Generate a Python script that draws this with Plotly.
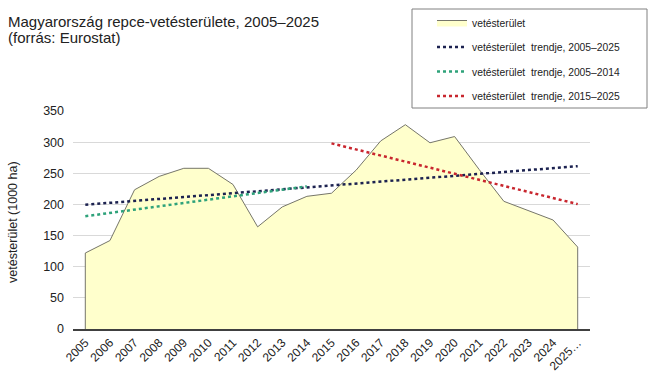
import plotly.graph_objects as go

# ---- data ----
years = [str(y) for y in range(2005, 2026)]
tick_labels = years[:-1] + ["2025…"]
area_values = [122, 142, 223.5, 245, 258, 258, 232, 164, 196, 213, 218,
               255, 302, 328, 299, 309, 256, 205, 190, 175, 131.5]

trend_all_x = ["2005", "2025"]
trend_all_y = [199.5, 261.4]
trend_early_x = ["2005", "2014"]
trend_early_y = [181, 229]
trend_late_x = ["2015", "2025"]
trend_late_y = [298, 200.5]

y_ticks = [0, 50, 100, 150, 200, 250, 300, 350]

FONT = "Liberation Sans, Arial, sans-serif"

# pixel geometry helpers
L, R, T, B = 73, 60, 111, 53
W, H = 650, 382
PW, PH = W - L - R, H - T - B


def px(xp):
    return (xp - L) / PW


def py(yp):
    return (H - B - yp) / PH


fig = go.Figure()

poly_x = [years[0]] + years + [years[-1]]
poly_y = [0] + area_values + [0]
fig.add_trace(go.Scatter(
    x=poly_x, y=poly_y, mode="lines", fill="toself",
    fillcolor="#FFFFCC", line=dict(color="#76766A", width=1),
    name="vetésterület", legendgroup="a", hoverinfo="skip"))

fig.add_trace(go.Scatter(
    x=trend_all_x, y=trend_all_y, mode="lines",
    line=dict(color="#1C2250", width=2.5, dash="dot"),
    name="vetésterület  trendje, 2005–2025", legendgroup="b"))
fig.add_trace(go.Scatter(
    x=trend_early_x, y=trend_early_y, mode="lines",
    line=dict(color="#2EA27A", width=2.5, dash="dot"),
    name="vetésterület  trendje, 2005–2014", legendgroup="c"))
fig.add_trace(go.Scatter(
    x=trend_late_x, y=trend_late_y, mode="lines",
    line=dict(color="#C8262E", width=2.5, dash="dot"),
    name="vetésterület  trendje, 2015–2025", legendgroup="d"))

fig.update_layout(
    width=W, height=H,
    margin=dict(l=L, r=R, t=T, b=B, autoexpand=False),
    paper_bgcolor="white", plot_bgcolor="white",
    font=dict(family=FONT, color="#222222", size=12),
    showlegend=True,
    legend=dict(x=px(432), y=py(8), xanchor="left", yanchor="top",
                bgcolor="rgba(0,0,0,0)", borderwidth=0,
                font=dict(family=FONT, size=10.3, color="#222222"),
                tracegroupgap=5.5, itemwidth=30),
    xaxis=dict(type="category", categoryorder="array", categoryarray=years,
               range=[-0.5, 20.5], tickvals=years, ticktext=tick_labels,
               tickangle=-45, tickfont=dict(size=12, family=FONT, color="#222222"),
               showgrid=False, showline=True, linecolor="#404040", linewidth=2,
               ticks="", zeroline=False, fixedrange=True, automargin=False),
    yaxis=dict(range=[0, 350], tickvals=y_ticks, showgrid=True,
               gridcolor="#D9D9D9", gridwidth=1, zeroline=False,
               showline=False, ticks="", ticklabelstandoff=8,
               tickfont=dict(size=12.5, family=FONT, color="#222222"),
               fixedrange=True, automargin=False),
    shapes=[dict(type="rect", xref="paper", yref="paper",
                 x0=px(412), x1=px(647), y0=py(108), y1=py(9),
                 line=dict(color="#808080", width=1), fillcolor="rgba(0,0,0,0)",
                 layer="above")],
    annotations=[
        dict(text="Magyarország repce-vetésterülete, 2005–2025", xref="paper", yref="paper",
             x=px(7), y=py(21.5), xanchor="left", yanchor="middle", showarrow=False,
             borderpad=0,
             font=dict(size=15, family=FONT, color="#222222")),
        dict(text="(forrás: Eurostat)", xref="paper", yref="paper",
             x=px(7), y=py(37), xanchor="left", yanchor="middle", showarrow=False,
             borderpad=0,
             font=dict(size=15, family=FONT, color="#222222")),
        dict(text="vetésterület (1000 ha)", xref="paper", yref="paper",
             x=px(13), y=py(222), xanchor="center", yanchor="middle", showarrow=False,
             textangle=-90, font=dict(size=12.5, family=FONT, color="#222222")),
    ],
)

fig.write_html("out.html", config={"displayModeBar": False},
               post_script="document.body.style.margin='0';")
